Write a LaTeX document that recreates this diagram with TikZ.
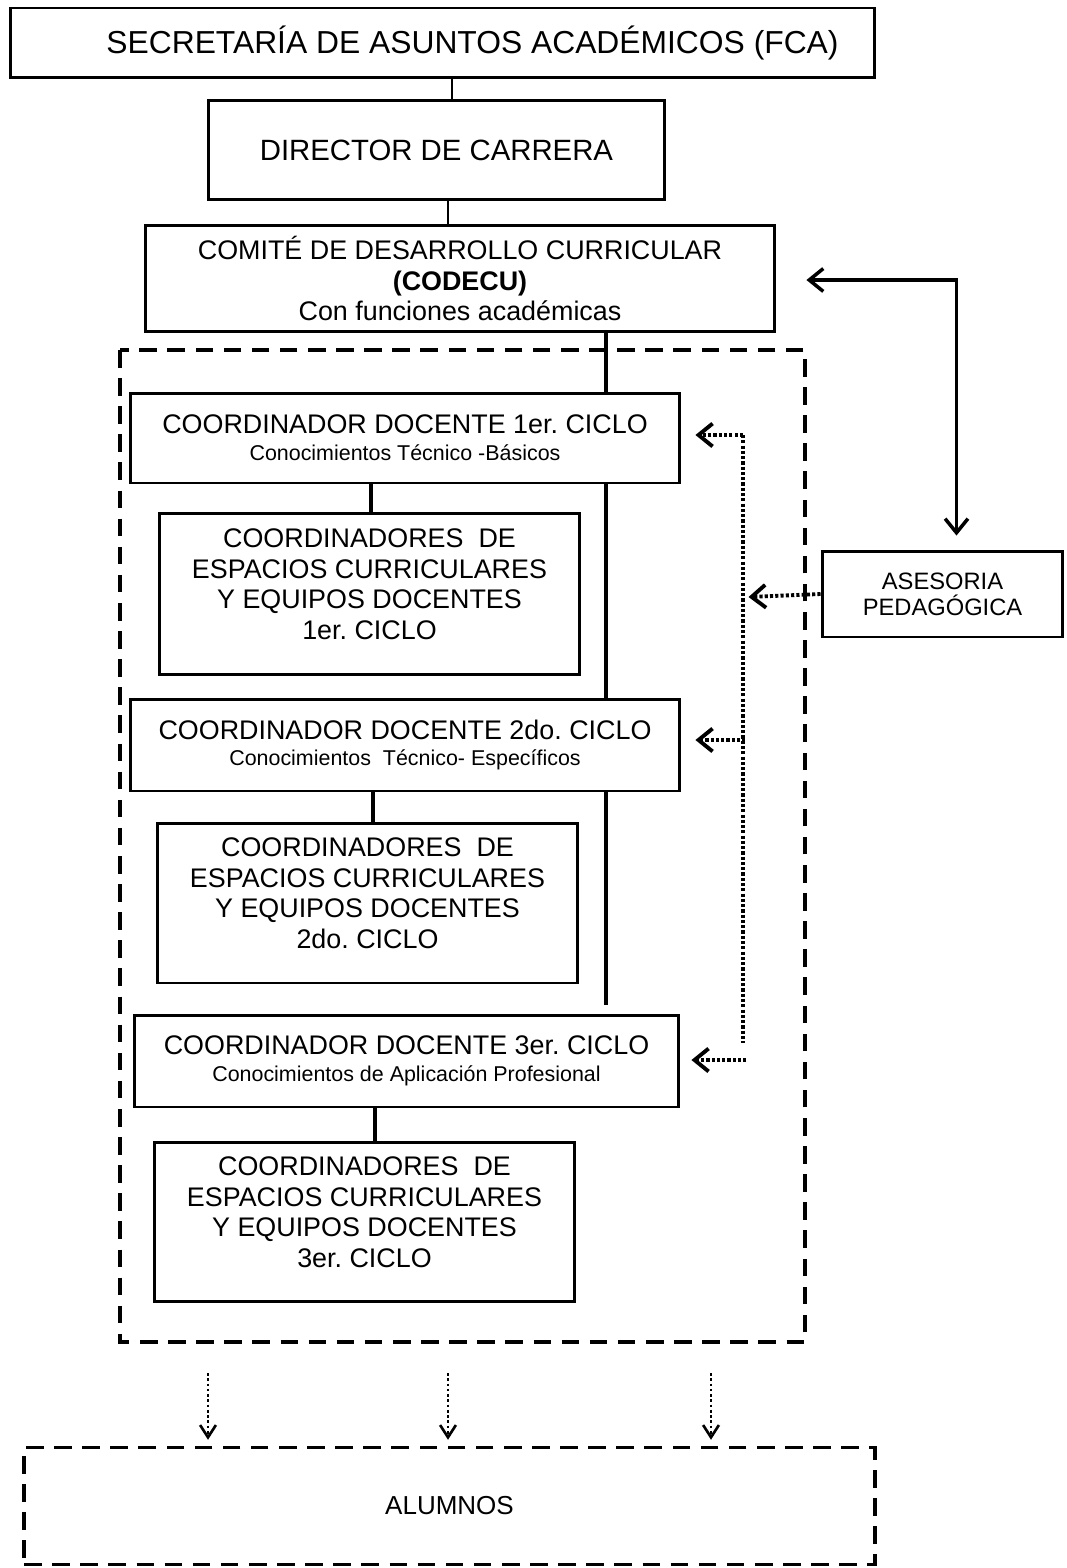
\documentclass[tikz,border=0pt]{standalone}
\usepackage{fontspec}
\setmainfont{Liberation Sans}
\frenchspacing
\usetikzlibrary{arrows.meta,calc}

\tikzset{
  box/.style={draw, line width=1.7pt, fill=white, align=center, inner sep=0pt},
  fn/.style={font=\fontsize{15.3}{17.3}\selectfont},
  barb/.style={-{Straight Barb[length=8pt,width=13pt]}},
  dots/.style={line width=2.2pt, dash pattern=on 1.8pt off 1.2pt},
  frame/.style={line width=2pt, dash pattern=on 10pt off 6pt}
}
\newcommand{\subf}{\fontsize{12.2}{14}\selectfont}

\begin{document}
\begin{tikzpicture}[x=0.02cm,y=-0.02cm]
\useasboundingbox (0,0) rectangle (1066,1568);
%\draw[step=50,blue,very thin] (0,0) grid (1066,1568);
\draw[frame] (120,350) rectangle (805,1342);

\node[box, minimum width=17.3cm, minimum height=1.4cm, font=\fontsize{18.1}{20}\selectfont] (sec) at (442.5,43) {\hspace*{1.2cm}SECRETARÍA DE ASUNTOS ACADÉMICOS (FCA)};
\node[box, minimum width=9.14cm, minimum height=2cm, font=\fontsize{16.7}{19}\selectfont] (dir) at (436.5,150) {DIRECTOR DE CARRERA};
\node[box, fn, minimum width=12.6cm, minimum height=2.14cm] (codecu) at (460,278.5) {COMITÉ DE DESARROLLO CURRICULAR\\\textbf{(CODECU)}\\Con funciones académicas};

\node[box, fn, minimum width=11cm, minimum height=1.8cm] (c1) at (405,438) {COORDINADOR DOCENTE 1er. CICLO\\[-2pt]{\subf Conocimientos Técnico -Básicos}};
\node[box, fn, minimum width=8.42cm, minimum height=3.24cm] (s1) at (369.5,594) {COORDINADORES\ \ DE\\ESPACIOS CURRICULARES\\Y EQUIPOS DOCENTES\\1er. CICLO\\[-6pt]};
\node[box, fn, minimum width=11cm, minimum height=1.84cm] (c2) at (405,745) {COORDINADOR DOCENTE 2do. CICLO\\[-2pt]{\subf Conocimientos\ \ Técnico- Específicos}};
\node[box, fn, minimum width=8.42cm, minimum height=3.2cm] (s2) at (367.5,903) {COORDINADORES\ \ DE\\ESPACIOS CURRICULARES\\Y EQUIPOS DOCENTES\\2do. CICLO\\[-6pt]};
\node[box, fn, minimum width=10.9cm, minimum height=1.84cm] (c3) at (406.5,1061) {COORDINADOR DOCENTE 3er. CICLO\\[-2pt]{\subf Conocimientos de Aplicación Profesional}};
\node[box, fn, minimum width=8.42cm, minimum height=3.18cm] (s3) at (364.5,1222) {COORDINADORES\ \ DE\\ESPACIOS CURRICULARES\\Y EQUIPOS DOCENTES\\3er. CICLO\\[-6pt]};

\node[box, minimum width=4.82cm, minimum height=1.72cm, font=\fontsize{13.5}{14.8}\selectfont] (ases) at (942.5,594) {ASESORIA\\PEDAGÓGICA};
\node[draw, frame, minimum width=17.02cm, minimum height=2.34cm, font=\fontsize{14.8}{17}\selectfont] (alumnos) at (449.5,1506) {ALUMNOS};

% lineas
\draw[line width=1.7pt] (sec.south -| 452,0) -- (dir.north -| 452,0);
\draw[line width=1.7pt] (dir.south -| 448,0) -- (codecu.north -| 448,0);
\draw[line width=2pt] (codecu.south -| 606,0) -- (c1.north -| 606,0);
\draw[line width=2pt] (c1.south -| 606,0) -- (c2.north -| 606,0);
\draw[line width=2pt] (c2.south -| 606,0) -- (606,1005);
\draw[line width=2pt] (c1.south -| 371,0) -- (s1.north -| 371,0);
\draw[line width=2pt] (c2.south -| 373,0) -- (s2.north -| 373,0);
\draw[line width=2pt] (c3.south -| 375,0) -- (s3.north -| 375,0);

\draw[line width=2pt, {Straight Barb[length=8pt,width=13pt]}-{Straight Barb[length=8pt,width=13pt]}] ($(codecu.east)+(30,1.5)$) -| ($(ases.north)+(14,-14)$);

% asesoria
\coordinate (d1) at (743,435);
\coordinate (d3) at (743,1043);
\draw[dots] (d1) -- (d3);
\draw[dots,barb] (d1) -- ($(c1.east)+(14,-3)$);
\draw[dots,barb] ($(c2.east)+(64,-5)$) -- ($(c2.east)+(14,-5)$);
\draw[dots,barb] ($(c3.east)+(66,-1)$) -- ($(c3.east)+(11,-1)$);
\draw[dots,barb] (ases.west) -- ++(-72,3);

\foreach \x in {208,448,711}
  \draw[line width=1.5pt, dash pattern=on 1.5pt off 1.5pt, -{Straight Barb[length=7pt,width=9pt]}] (\x,1373) -- ($(alumnos.north -| \x,0)+(0,-6)$);
\end{tikzpicture}
\end{document}
